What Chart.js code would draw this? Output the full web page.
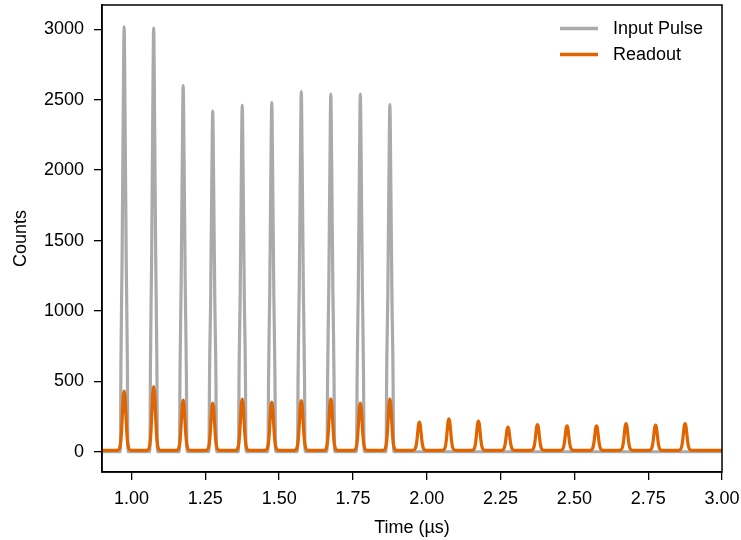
<!DOCTYPE html>
<html>
<head>
<meta charset="utf-8">
<script src="https://cdn.jsdelivr.net/npm/chart.js@4.4.1/dist/chart.umd.min.js"></script>
<style>
  body { margin: 0; background: #fff; }
  #wrap { width: 741px; height: 540px; }
</style>
</head>
<body>
<div id="wrap"><canvas id="myChart" width="741" height="540"></canvas></div>
<script>
// pulse centres (µs) and peak heights
const pulseTimes = [0.975, 1.075, 1.175, 1.275, 1.375, 1.475, 1.575, 1.675, 1.775, 1.875,
                    1.975, 2.075, 2.175, 2.275, 2.375, 2.475, 2.575, 2.675, 2.775, 2.875];
const inputPeaks = [3020, 3010, 2600, 2420, 2460, 2480, 2558, 2540, 2540, 2465];
const readoutPeaks = [431, 463, 367, 346, 374, 353, 364, 376, 345, 375,
                      211, 234, 218, 175, 193, 183, 183, 200, 190, 200];
const inputBase = 0;
const readoutBase = 10;

// pulse shape (offset from centre in µs, fraction of peak)
const inputShapeDt = [-0.014, -0.012, -0.011, -0.007, -0.003, 0, 0.003, 0.007, 0.011, 0.012, 0.014];
const inputShapeLvl = [0, 0.05, 0.2, 0.45, 0.8, 1, 0.8, 0.45, 0.2, 0.05, 0];
const readoutShapeDt = [-0.022, -0.016, -0.012, -0.009, -0.006, -0.003, 0, 0.003, 0.006, 0.009, 0.012, 0.016, 0.022];
const readoutShapeLvl = [0, 0.03, 0.12, 0.3, 0.6, 0.9, 1, 0.9, 0.6, 0.3, 0.12, 0.03, 0];

const xTicks = [1.00, 1.25, 1.50, 1.75, 2.00, 2.25, 2.50, 2.75, 3.00];
const yTicks = [0, 500, 1000, 1500, 2000, 2500, 3000];

const GRAY = '#aaaaaa';
const ORANGE = '#e06400';

function buildTrace(peaks, base, dts, lvls) {
    const pts = [{ x: 0.9, y: base }];
    peaks.forEach((p, i) => {
        dts.forEach((d, k) => {
            pts.push({ x: pulseTimes[i] + d, y: base + (p - base) * lvls[k] });
        });
    });
    pts.push({ x: 3.0, y: base });
    return pts;
}

const font = { family: '"Liberation Sans", Arial, sans-serif', size: 18 };

// legend drawn inside the plot, matplotlib style
const legendPlugin = {
    id: 'innerLegend',
    afterDatasetsDraw(chart) {
        const c = chart.ctx;
        const items = [['Input Pulse', GRAY], ['Readout', ORANGE]];
        c.save();
        c.font = '18px "Liberation Sans", Arial, sans-serif';
        c.textBaseline = 'middle';
        items.forEach((it, i) => {
            const y = 28.5 + i * 26;
            c.strokeStyle = it[1];
            c.lineWidth = 3.5;
            c.beginPath();
            c.moveTo(560, y);
            c.lineTo(598, y);
            c.stroke();
            c.fillStyle = '#000';
            c.fillText(it[0], 613, y + 1);
        });
        c.restore();
    }
};

const framePlugin = {
    id: 'frame',
    afterDraw(chart) {
        const a = chart.chartArea;
        const c = chart.ctx;
        c.save();
        c.strokeStyle = '#000';
        c.lineWidth = 1.5;
        c.strokeRect(a.left, a.top, a.right - a.left, a.bottom - a.top);
        c.restore();
    }
};

const lineStyle = {
    borderWidth: 3.2,
    borderJoinStyle: 'round',
    cubicInterpolationMode: 'monotone',
    pointRadius: 0
};

new Chart(document.getElementById('myChart').getContext('2d'), {
    type: 'line',
    data: {
        datasets: [{
            label: 'Readout',
            data: buildTrace(readoutPeaks, readoutBase, readoutShapeDt, readoutShapeLvl),
            borderColor: ORANGE,
            order: 0,
            ...lineStyle
        }, {
            label: 'Input Pulse',
            data: buildTrace(inputPeaks, inputBase, inputShapeDt, inputShapeLvl),
            borderColor: GRAY,
            order: 1,
            ...lineStyle
        }]
    },
    options: {
        responsive: false,
        animation: false,
        parsing: false,
        layout: { padding: { top: 5, right: 19, left: 0, bottom: 0 } },
        plugins: { legend: { display: false }, tooltip: { enabled: false } },
        scales: {
            x: {
                type: 'linear', min: 0.9, max: 3.0,
                afterBuildTicks: s => { s.ticks = xTicks.map(v => ({ value: v })); },
                afterFit: s => { s.height = 68; s.paddingLeft = 0; s.paddingRight = 0; },
                ticks: { callback: v => v.toFixed(2), font: font, color: '#000', padding: 8, maxRotation: 0, autoSkip: false },
                grid: { drawOnChartArea: false, tickLength: 8, color: '#000', lineWidth: 1.3 },
                border: { color: '#000', width: 1.5 },
                title: { display: true, text: 'Time (µs)', font: font, color: '#000', padding: { top: 0, bottom: 1 } }
            },
            y: {
                type: 'linear', min: -144, max: 3173,
                afterBuildTicks: s => { s.ticks = yTicks.map(v => ({ value: v })); },
                afterFit: s => { s.width = 102; s.paddingTop = 0; s.paddingBottom = 0; },
                ticks: { callback: v => String(v), font: font, color: '#000', padding: 10, autoSkip: false },
                grid: { drawOnChartArea: false, tickLength: 8, color: '#000', lineWidth: 1.3 },
                border: { color: '#000', width: 1.5 },
                title: { display: true, text: 'Counts', font: font, color: '#000', padding: { top: 10, bottom: 0 } }
            }
        }
    },
    plugins: [legendPlugin, framePlugin]
});
</script>
</body>
</html>
